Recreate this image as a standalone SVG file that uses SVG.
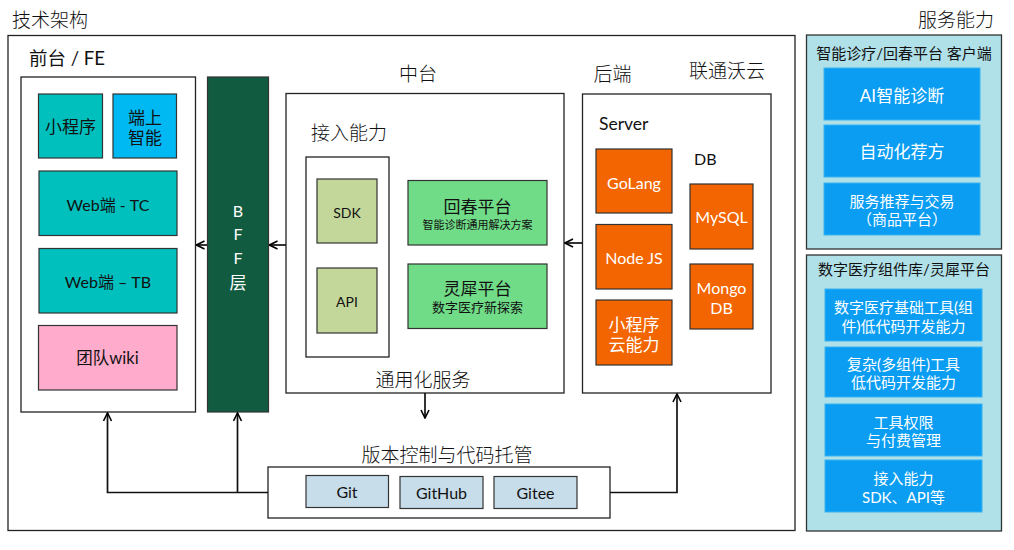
<svg xmlns="http://www.w3.org/2000/svg" width="1014" height="550" viewBox="0 0 1014 550">
<defs>
<marker id="arr" viewBox="0 0 10 10" refX="9" refY="5" markerWidth="10" markerHeight="10" markerUnits="userSpaceOnUse" orient="auto">
<path d="M1,1 L9,5 L1,9" fill="none" stroke="#000" stroke-width="1.6"/>
</marker>
<style>
text{font-family:Lato,"Noto Sans CJK SC",sans-serif;fill:#111;text-anchor:middle;dominant-baseline:central}
.box{fill:#fff;stroke:#222;stroke-width:1.3}
.teal{fill:#00C0BE;stroke:#333;stroke-width:1.2}
.org{fill:#F26500;stroke:#333;stroke-width:1.2}
.lg{fill:#C3D79A;stroke:#333;stroke-width:1.2}
.gr{fill:#70DC88;stroke:#333;stroke-width:1.2}
.git{fill:#C7DDEA;stroke:#333;stroke-width:1.2}
.pan{fill:#B0E0E8;stroke:#333;stroke-width:1.3}
.blu{fill:#0A9DF2;stroke:#3AB3F0;stroke-width:1}
.ttl{font-size:19px;font-family:"Noto Sans CJK SC",sans-serif;font-weight:300}
.t17{font-size:17px}
.t14{font-size:14px}
.t16{font-size:16px}
.wl{font-size:15px;fill:#fff}
.lead{text-anchor:start}
.cn{stroke:#111;stroke-width:1.7;fill:none}
</style>
</defs>
<text x="12" y="18" class="lead ttl">技术架构</text>
<text x="956" y="18" class="ttl">服务能力</text>
<g id="outer"><rect x="8" y="35.5" width="787" height="495" class="box"/></g>

<g id="fe">
<text x="29" y="58" class="lead" style="font-size:18.5px">前台 / FE</text>
<rect x="21" y="77" width="174.5" height="335" class="box"/>
<g id="mini"><rect x="38.5" y="94" width="64" height="64" class="teal"/><text x="70.5" y="126" class="t17">小程序</text></g>
<g id="edge-ai"><rect x="113" y="94" width="63.5" height="64" fill="#00B9F2" stroke="#333" stroke-width="1.2"/><text x="145" y="117" class="t17">端上</text><text x="145" y="137" class="t17">智能</text></g>
<g id="webtc"><rect x="39" y="171" width="138" height="64.5" class="teal"/><text x="108" y="204" class="t16">Web端 - TC</text></g>
<g id="webtb"><rect x="39" y="248.5" width="138" height="64.5" class="teal"/><text x="108" y="281" class="t16">Web端 – TB</text></g>
<g id="wiki"><rect x="38.5" y="325.5" width="138.5" height="64.5" fill="#FFABCB" stroke="#333" stroke-width="1.2"/><text x="107.5" y="358" style="font-size:16.5px">团队wiki</text></g>
</g>

<g id="bff">
<rect x="207.5" y="77" width="61" height="335" fill="#115B40" stroke="#333" stroke-width="1.2"/>
<text x="238" y="210" class="wl" style="font-size:16px">B</text>
<text x="238" y="233.5" class="wl" style="font-size:16px">F</text>
<text x="238" y="257.5" class="wl" style="font-size:16px">F</text>
<text x="238" y="282" class="wl" style="font-size:17px">层</text>
</g>

<g id="middle">
<text x="418" y="72" class="ttl">中台</text>
<rect x="286" y="93.5" width="278" height="299.5" class="box"/>
<text x="311" y="131" class="lead ttl">接入能力</text>
<rect x="306" y="157" width="83" height="200" class="box"/>
<g id="sdk"><rect x="317" y="179" width="60" height="64" class="lg"/><text x="347" y="212" class="t14">SDK</text></g>
<g id="api"><rect x="317" y="268" width="60" height="65" class="lg"/><text x="347" y="301" class="t14">API</text></g>
<g id="huichun"><rect x="408" y="180.5" width="139" height="64.5" class="gr"/><text x="477.5" y="206" class="t17">回春平台</text><text x="477.5" y="224" style="font-size:11px">智能诊断通用解决方案</text></g>
<g id="lingxi"><rect x="408" y="264" width="139" height="64.5" class="gr"/><text x="477.5" y="288" class="t17">灵犀平台</text><text x="477.5" y="307" style="font-size:13px">数字医疗新探索</text></g>
<text x="423" y="378" class="ttl">通用化服务</text>
</g>

<g id="backend">
<text x="612.5" y="72" class="ttl">后端</text>
<text x="727" y="69" class="ttl">联通沃云</text>
<rect x="582.5" y="94" width="188.5" height="299" class="box"/>
<text x="599" y="123" class="lead" style="font-size:17.5px">Server</text>
<text x="694" y="158.5" class="lead" style="font-size:16px">DB</text>
<g id="golang"><rect x="596" y="149" width="76" height="64" class="org"/><text x="634" y="182" class="wl" style="font-size:16px">GoLang</text></g>
<g id="nodejs"><rect x="596" y="224.5" width="76" height="64.5" class="org"/><text x="634" y="257" class="wl" style="font-size:16px">Node JS</text></g>
<g id="cloud"><rect x="596" y="300" width="76" height="65" class="org"/><text x="634" y="324" class="wl" style="font-size:17px">小程序</text><text x="634" y="344" class="wl" style="font-size:17px">云能力</text></g>
<g id="mysql"><rect x="690" y="184" width="63" height="65" class="org"/><text x="721.5" y="216.5" class="wl" style="font-size:16px">MySQL</text></g>
<g id="mongo"><rect x="690" y="264" width="63" height="65" class="org"/><text x="721.5" y="287" class="wl" style="font-size:16px">Mongo</text><text x="721.5" y="307.5" class="wl" style="font-size:16px">DB</text></g>
</g>

<g id="vcs">
<text x="447" y="453" class="ttl">版本控制与代码托管</text>
<rect x="268" y="467" width="342" height="51" class="box"/>
<g id="git"><rect x="306" y="475.5" width="82.5" height="32" class="git"/><text x="347" y="491.5" class="t16">Git</text></g>
<g id="github"><rect x="400" y="476.5" width="83" height="32" class="git"/><text x="441.5" y="492.5" class="t16">GitHub</text></g>
<g id="gitee"><rect x="494" y="476.5" width="83" height="32" class="git"/><text x="535.5" y="492.5" class="t16">Gitee</text></g>
</g>

<g id="svc1">
<rect x="806.5" y="35" width="195" height="214" class="pan"/>
<text x="904" y="53" style="font-size:15px">智能诊疗/回春平台 客户端</text>
<g id="ai"><rect x="824" y="68" width="156" height="52" class="blu"/><text x="902" y="95" class="wl" style="font-size:17px">AI智能诊断</text></g>
<g id="rx"><rect x="824" y="125" width="156" height="52" class="blu"/><text x="902" y="151" class="wl" style="font-size:17px">自动化荐方</text></g>
<g id="trade"><rect x="824" y="183" width="156" height="52" class="blu"/><text x="902" y="201" class="wl">服务推荐与交易</text><text x="902" y="219" class="wl">（商品平台）</text></g>
</g>

<g id="svc2">
<rect x="806.5" y="255" width="195" height="276" class="pan"/>
<text x="904" y="269" style="font-size:15px">数字医疗组件库/灵犀平台</text>
<g id="b1"><rect x="825" y="289" width="157" height="52" class="blu"/><text x="903.5" y="307" class="wl">数字医疗基础工具(组</text><text x="903.5" y="326" class="wl">件)低代码开发能力</text></g>
<g id="b2"><rect x="825" y="347" width="157" height="50" class="blu"/><text x="903.5" y="364" class="wl">复杂(多组件)工具</text><text x="903.5" y="382" class="wl">低代码开发能力</text></g>
<g id="b3"><rect x="825" y="404" width="157" height="52" class="blu"/><text x="903.5" y="422" class="wl">工具权限</text><text x="903.5" y="440" class="wl">与付费管理</text></g>
<g id="b4"><rect x="825" y="460" width="157" height="52" class="blu"/><text x="903.5" y="478" class="wl">接入能力</text><text x="903.5" y="497" class="wl">SDK、API等</text></g>
</g>

<g id="connectors">
<line x1="207" y1="245" x2="196.5" y2="245" class="cn" marker-end="url(#arr)"/>
<line x1="286" y1="245" x2="269.5" y2="245" class="cn" marker-end="url(#arr)"/>
<line x1="582" y1="243" x2="565" y2="243" class="cn" marker-end="url(#arr)"/>
<line x1="425" y1="393" x2="425" y2="418" class="cn" marker-end="url(#arr)"/>
<polyline points="268,492.5 107.5,492.5 107.5,413" class="cn" marker-end="url(#arr)"/>
<line x1="237.5" y1="492.5" x2="237.5" y2="413" class="cn" marker-end="url(#arr)"/>
<polyline points="610,492.5 677,492.5 677,394" class="cn" marker-end="url(#arr)"/>
</g>
</svg>
